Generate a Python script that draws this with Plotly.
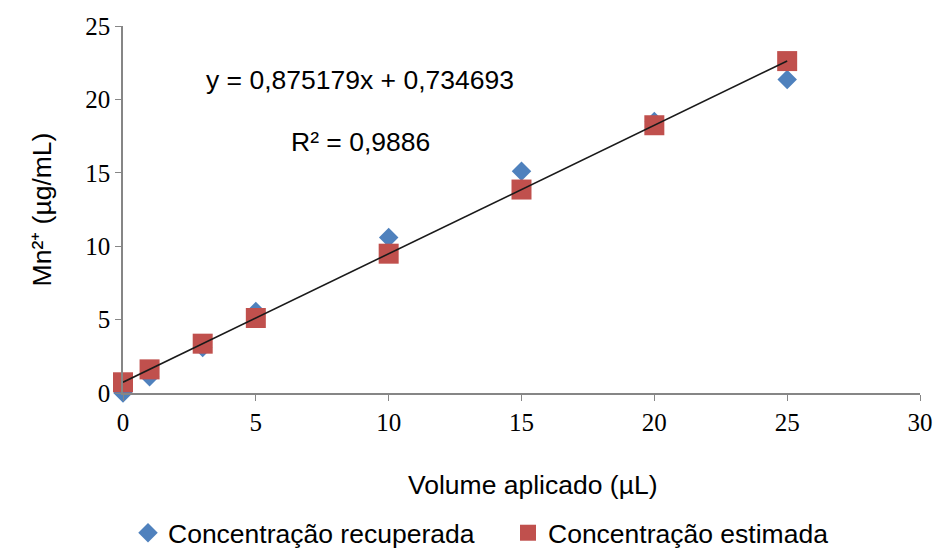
import plotly.graph_objects as go

# Applied volume (µL) and Mn2+ concentrations (µg/mL)
volume = [0, 1, 3, 5, 10, 15, 20, 25]
recuperada = [0.0, 1.1, 3.1, 5.55, 10.6, 15.1, 18.5, 21.36]
estimada = [0.73, 1.61, 3.36, 5.11, 9.49, 13.86, 18.24, 22.61]

# Linear trendline coefficients
slope = 0.875179
intercept = 0.734693
line_x = [0, 25]
line_y = [slope * v + intercept for v in line_x]

x_ticks = [0, 5, 10, 15, 20, 25, 30]
y_ticks = [0, 5, 10, 15, 20, 25]

sans = "Liberation Sans, Arial, sans-serif"
serif = "Liberation Serif, Times New Roman, serif"
W, H = 936, 548

fig = go.Figure()
fig.add_trace(go.Scatter(
    x=volume, y=recuperada, mode="markers", name="Concentração recuperada",
    marker=dict(symbol="diamond", size=15, color="#4F81BD"),
    cliponaxis=False, legend="legend",
))
fig.add_trace(go.Scatter(
    x=volume, y=estimada, mode="markers", name="Concentração estimada",
    marker=dict(symbol="square", size=20, color="#C0504D"),
    cliponaxis=False, legend="legend2",
))
fig.add_trace(go.Scatter(
    x=line_x, y=line_y, mode="lines", showlegend=False,
    line=dict(color="#1a1a1a", width=1.6), hoverinfo="skip",
))

axis_common = dict(
    showgrid=False, zeroline=False, showline=True, linecolor="#868686",
    linewidth=1.5, ticks="outside", ticklen=6, tickcolor="#868686",
    tickfont=dict(family=serif, size=25, color="#000000"),
)

plot_w = W - 123 - 16
plot_h = H - 26 - 155
text_font = dict(family=sans, size=26.5, color="#000000")
legend_common = dict(orientation="h", xref="container", xanchor="left",
                     y=15 / H, yref="container", yanchor="middle",
                     font=text_font, itemsizing="trace", itemwidth=30,
                     bgcolor="rgba(0,0,0,0)")

fig.update_layout(
    width=W, height=H,
    margin=dict(l=123, r=16, t=26, b=155),
    paper_bgcolor="white", plot_bgcolor="white",
    xaxis=dict(range=[0, 30], tickvals=x_ticks, automargin=False, **axis_common),
    yaxis=dict(range=[0, 25], tickvals=y_ticks, automargin=False,
               title=dict(text="Mn²⁺ (µg/mL)", standoff=26, font=text_font),
               **axis_common),
    legend=dict(x=128 / W, **legend_common),
    legend2=dict(x=508 / W, **legend_common),
    annotations=[
        dict(text="y = 0,875179x + 0,734693", x=(360 - 123) / plot_w, y=(393 - 80) / plot_h,
             xref="paper", yref="paper", xanchor="center", yanchor="middle",
             showarrow=False, font=text_font),
        dict(text="R² = 0,9886", x=(360 - 123) / plot_w, y=(393 - 142) / plot_h,
             xref="paper", yref="paper", xanchor="center", yanchor="middle",
             showarrow=False, font=text_font),
        dict(text="Volume aplicado (µL)", x=(533 - 123) / plot_w, y=(393 - 485) / plot_h,
             xref="paper", yref="paper", xanchor="center", yanchor="middle",
             showarrow=False, font=text_font),
    ],
    showlegend=True,
)

fig.write_html("out.html")
